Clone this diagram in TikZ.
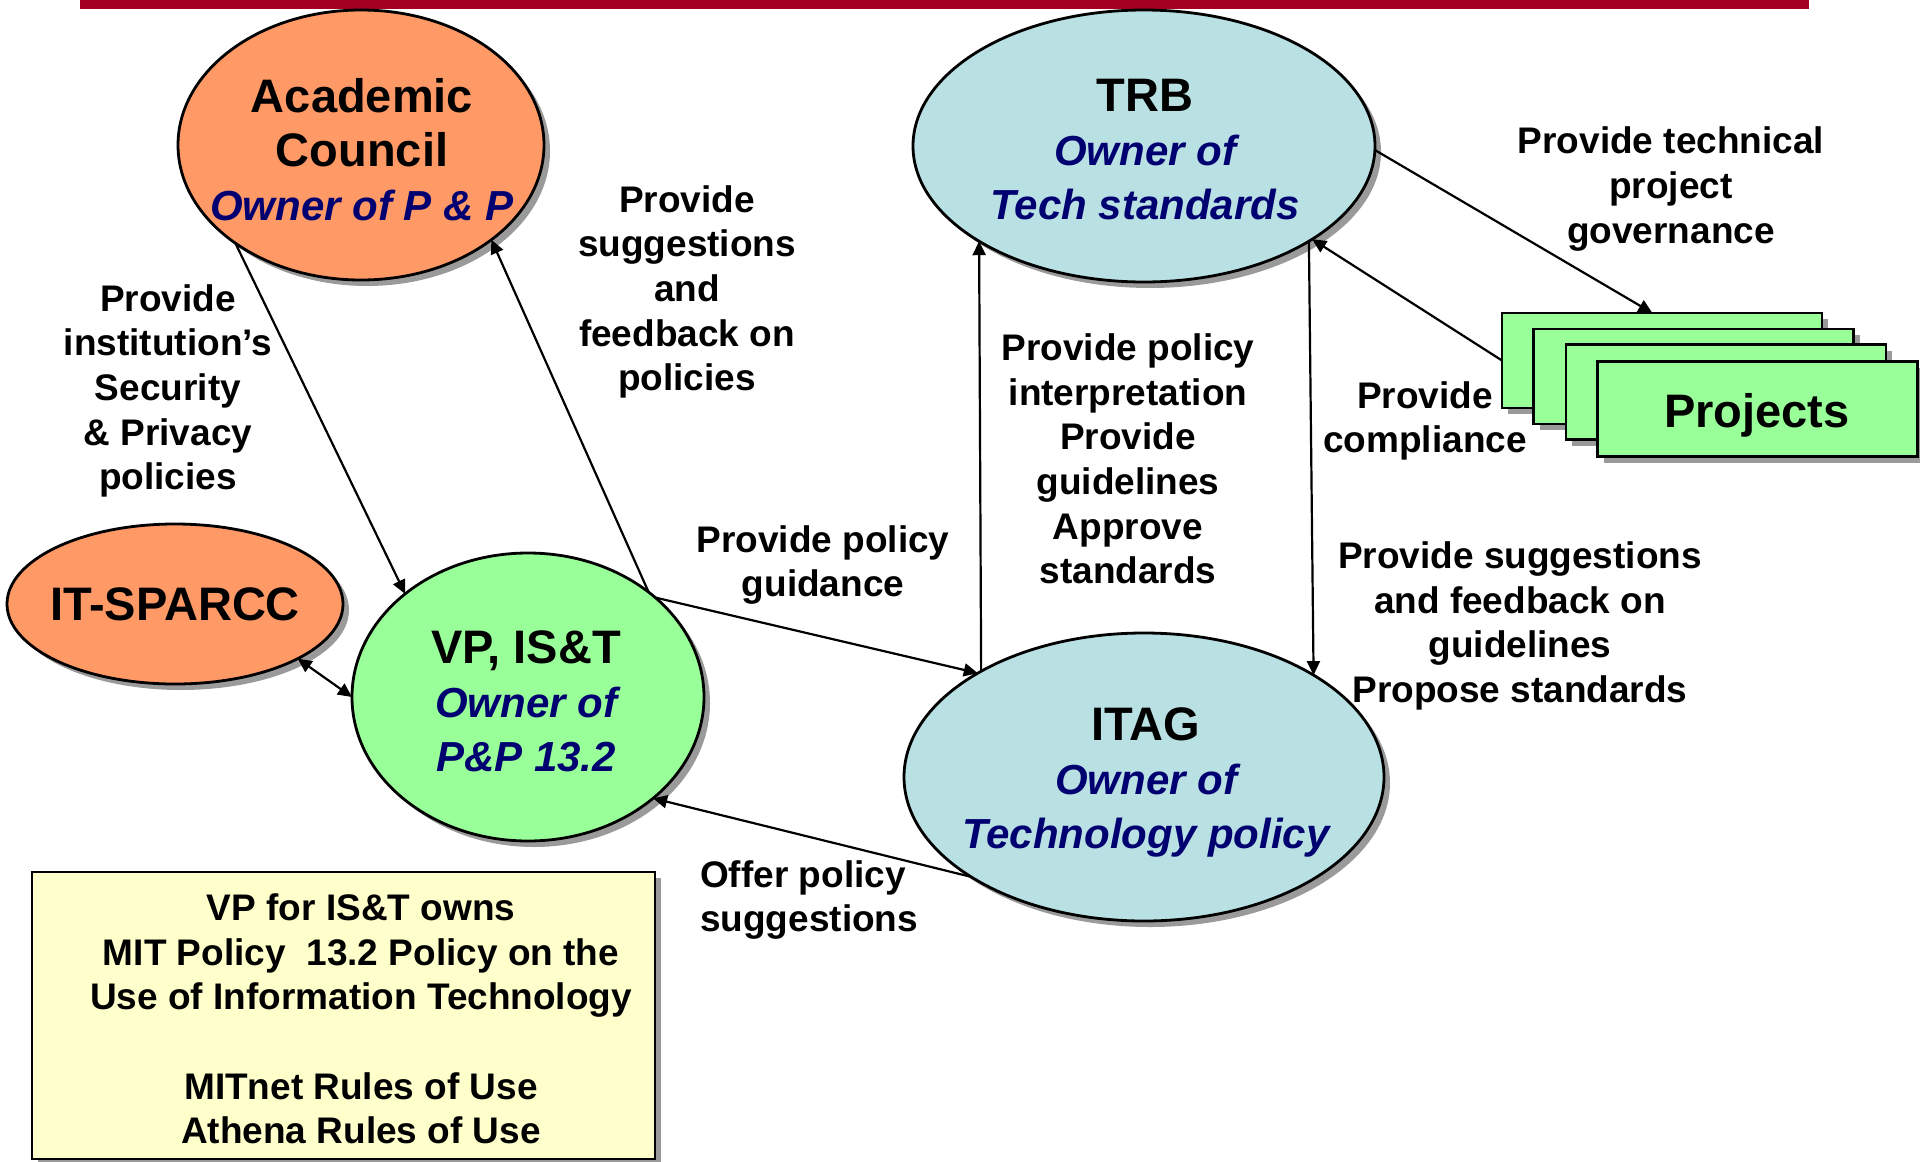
\documentclass[tikz,border=0pt]{standalone}
\usepackage{fontspec}
\setmainfont{Liberation Sans}
\usetikzlibrary{shapes.geometric,arrows.meta,shadows,calc}
\definecolor{redbar}{HTML}{A50021}
\definecolor{orangef}{HTML}{FF9966}
\definecolor{bluef}{HTML}{B9E0E3}
\definecolor{greenf}{HTML}{99FF99}
\definecolor{yellowf}{HTML}{FFFFCC}
\definecolor{navytxt}{HTML}{000070}
\definecolor{shadowg}{HTML}{9A9A9A}
\newcommand\myTtl{\fontsize{47}{54}\selectfont\bfseries}
\newcommand\myOwn{\fontsize{42}{54}\selectfont\bfseries\itshape\color{navytxt}}
\begin{document}
\begin{tikzpicture}[x=1pt,y=1pt,
  shad/.style={drop shadow={shadow xshift=6pt,shadow yshift=-6pt,fill=shadowg,opacity=1}},
  ell/.style={ellipse,draw,line width=2.8pt,inner sep=0pt,outer sep=0pt,shad},
  box/.style={rectangle,draw,line width=2.8pt,inner sep=0pt,outer sep=0pt,shad},
  txt/.style={font=\fontsize{42}{54}\selectfont,align=center,inner sep=0pt},
  lbl/.style={font=\fontsize{37}{44.7}\selectfont\bfseries,align=center,inner sep=0pt},
  conn/.style={line width=2.2pt,-{Triangle[length=14pt,width=13pt]}},
  dconn/.style={line width=2.2pt,{Triangle[length=14pt,width=13pt]}-{Triangle[length=14pt,width=13pt]}}
]
\useasboundingbox (0,0) rectangle (1920,-1162);
\fill[redbar] (80,0) rectangle (1809,-9);

% ellipses
\node[ell,fill=orangef,minimum width=366,minimum height=270] (acad) at (361,-145) {};
\node[ell,fill=bluef,minimum width=462,minimum height=272] (trb) at (1144,-146) {};
\node[ell,fill=orangef,minimum width=336,minimum height=160] (sparcc) at (175,-604) {};
\node[ell,fill=greenf,minimum width=352,minimum height=288] (vp) at (528,-697) {};
\node[ell,fill=bluef,minimum width=480,minimum height=288] (itag) at (1144,-777) {};

% projects stack
\node[box,fill=greenf,minimum width=320,minimum height=95] (p1) at (1662,-360.5) {};
\node[box,fill=greenf,minimum width=320,minimum height=95] (p2) at (1693.5,-376.5) {};
\node[box,fill=greenf,minimum width=320,minimum height=95] (p3) at (1726,-392) {};
\node[box,fill=greenf,minimum width=320,minimum height=95] (p4) at (1757.5,-409) {};

% yellow note
\node[box,fill=yellowf,minimum width=623,minimum height=287] (note) at (343.5,-1015.5) {};

% node texts
\node[txt] (acadt) at (362,-150) {\myTtl Academic\\ \myTtl Council\\ \myOwn Owner of P \& P};
\node[txt] (trbt) at (1145,-150) {\myTtl TRB\\ \myOwn Owner of\\ \myOwn Tech standards};
\node[txt] (sparcct) at (175,-604) {\myTtl IT-SPARCC};
\node[txt] (vpt) at (526,-701) {\myTtl VP, IS\&T\\ \myOwn Owner of\\ \myOwn P\&P 13.2};
\node[txt] (itagt) at (1146,-782) {\myTtl ITAG\\ \myOwn Owner of\\ \myOwn Technology policy};
\node[txt] (p4t) at (1757,-415) {\myTtl Projects};
\node[lbl] (notet) at (361,-1019) {VP for IS\&T owns\\ MIT Policy\ \ 13.2 Policy on the\\ Use of Information Technology\\ \mbox{}\\ MITnet Rules of Use\\ Athena Rules of Use};

% labels
\node[lbl] (l1) at (168,-391) {Provide\\ institution’s\\ Security\\ \& Privacy\\ policies};
\node[lbl] (l2) at (687,-292) {Provide\\ suggestions\\ and\\ feedback on\\ policies};
\node[lbl] (l3) at (823,-565) {Provide policy\\ guidance};
\node[lbl] (l4) at (1128,-459) {Provide policy\\ interpretation\\ Provide\\ guidelines\\ Approve\\ standards};
\node[lbl] (l5) at (1671,-189) {Provide technical\\ project\\ governance};
\node[lbl] (l6) at (1425,-421) {Provide\\ compliance};
\node[lbl] (l7) at (1520,-626) {Provide suggestions\\ and feedback on\\ guidelines\\ Propose standards};
\node[lbl,align=left,anchor=west] (l8) at (700,-900) {Offer policy\\ suggestions};

% connectors
\draw[conn] (acad.218) -- (vp.140.3);
\draw[conn] (vp.41.8) -- (acad.-36.2);
\draw[dconn] (sparcc.-24.6) -- (vp.180);
\draw[conn] (vp.38.5) -- (itag.148.7);
\draw[conn] (itag.210.8) -- (vp.-39.3);
\draw[conn] (itag.147.9) -- (trb.210.6);
\draw[conn] (trb.-30.1) -- (itag.31.5);
\draw[conn] (p1.west) -- (trb.-29.7);
\draw[conn] (trb.-1) -- ($(p1.north west)!0.47!(p1.north east)$);
\end{tikzpicture}
\end{document}
